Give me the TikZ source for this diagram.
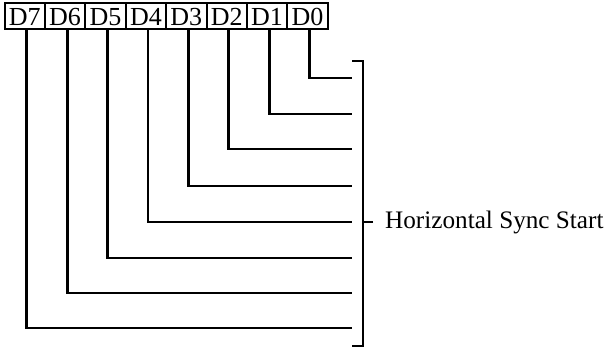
\documentclass[tikz,border=0pt]{standalone}
\usepackage{fontspec}
\setmainfont{Liberation Serif}
\usetikzlibrary{positioning}
\begin{document}
\begin{tikzpicture}[x=1pt,y=-1pt,
	bitbox/.style={rectangle, draw=black, line width=2pt, minimum width=40.4pt, minimum height=26pt, inner sep=0pt, outer sep=0pt, text height=19pt, text depth=-3pt, font=\fontsize{26}{30}\selectfont},
	wire/.style={line width=2.8pt},]
						\useasboundingbox (0,0) rectangle (606,348);
						\node[bitbox](d7) at (24.7,16){D7};
						\node[bitbox](d6)[right=0pt of d7]{D6};
						\node[bitbox](d5)[right=0pt of d6]{D5};
						\node[bitbox](d4)[right=0pt of d5]{D4};
						\node[bitbox](d3)[right=0pt of d4]{D3};
						\node[bitbox](d2)[right=0pt of d3]{D2};
						\node[bitbox](d1)[right=0pt of d2]{D1};
						\node[bitbox](d0)[right=0pt of d1]{D0};

						\coordinate (end0) at (352,78);
						\coordinate (end1) at (352,114);
						\coordinate (end2) at (352,149);
						\coordinate (end3) at (352,186);
						\coordinate (end4) at (352,222);
						\coordinate (end5) at (352,258);
						\coordinate (end6) at (352,293);
						\coordinate (end7) at (352,328);

						\draw[wire]([xshift=2pt]d0.south) |- (end0);
						\draw[wire]([xshift=2pt]d1.south) |- (end1);
						\draw[wire]([xshift=2pt]d2.south) |- (end2);
						\draw[wire]([xshift=2pt]d3.south) |- (end3);
						\draw[wire]([xshift=2pt]d4.south) |- (end4);
						\draw[wire]([xshift=2pt]d5.south) |- (end5);
						\draw[wire]([xshift=2pt]d6.south) |- (end6);
						\draw[wire]([xshift=2pt]d7.south) |- (end7);

						\coordinate (brtop) at (352,61);
						\coordinate (brbot) at (352,346);
						\coordinate (brmid) at (373,222);
						\draw[wire](brtop) -- ++(11,0) |- (brbot);
						\draw[wire](brmid) -- ++(-10,0);
						\node[right=12pt of brmid, inner sep=0pt, font=\fontsize{25.2}{30}\selectfont](hsync){Horizontal Sync Start};
				\end{tikzpicture}
\end{document}
